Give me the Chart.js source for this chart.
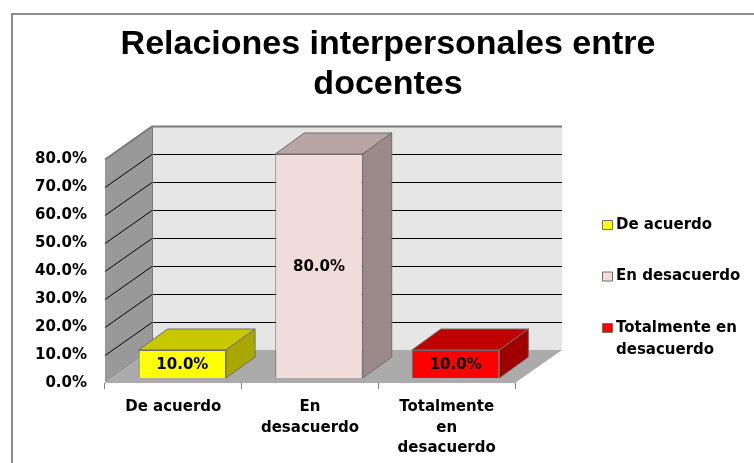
<!DOCTYPE html>
<html>
<head>
<meta charset="utf-8">
<script src="https://cdn.jsdelivr.net/npm/chart.js@4.4.0/dist/chart.umd.min.js"></script>
<style>
  html, body { margin: 0; padding: 0; background: #fff; }
  #wrap { width: 754px; height: 463px; }
</style>
</head>
<body>
<div id="wrap"><canvas id="chart" width="754" height="463"></canvas></div>
<script>
// data
const categories = ["De acuerdo", "En desacuerdo", "Totalmente en desacuerdo"];
const axisLabels = [["De acuerdo"], ["En", "desacuerdo"], ["Totalmente", "en", "desacuerdo"]];
const percentages = [10.0, 80.0, 10.0];
const yTicks = [0, 10, 20, 30, 40, 50, 60, 70, 80];

// colours of each bar: front, top and side faces
const frontColors = ["#FFFF00", "#F2DCDB", "#FF0000"];
const topColors = ["#C8C800", "#B8A5A4", "#C00000"];
const sideColors = ["#A8A800", "#9A8A89", "#A00000"];

// 3d look (pixels)
const WALL = { dx: 47, dy: -33 };      // front edge -> back wall
const BAR_SHIFT = { dx: 9, dy: -5 };   // front edge -> bar front face
const BAR_DEPTH = { dx: 29, dy: -21 }; // bar front face -> bar back

const labelFont = "bold 15px 'DejaVu Sans', Verdana, sans-serif";

function poly(ctx, pts, fill, stroke) {
    ctx.beginPath();
    ctx.moveTo(pts[0][0], pts[0][1]);
    for (let i = 1; i < pts.length; i++) ctx.lineTo(pts[i][0], pts[i][1]);
    ctx.closePath();
    ctx.fillStyle = fill;
    ctx.fill();
    if (stroke) {
        ctx.strokeStyle = stroke;
        ctx.lineWidth = 1;
        ctx.stroke();
    }
}

// split a legend entry into lines that fit the space on the right
function wrapText(ctx, text, maxWidth) {
    const words = text.split(" ");
    const lines = [];
    let line = "";
    words.forEach(w => {
        const test = line ? line + " " + w : w;
        if (line && ctx.measureText(test).width > maxWidth) {
            lines.push(line);
            line = w;
        } else {
            line = test;
        }
    });
    lines.push(line);
    return lines;
}

const threeD = {
    id: "threeD",
    beforeDraw(chart) {
        const ctx = chart.ctx;
        ctx.save();
        ctx.strokeStyle = "#8c8c8c";
        ctx.lineWidth = 2;
        ctx.beginPath();
        ctx.moveTo(12, chart.height);
        ctx.lineTo(12, 14);
        ctx.lineTo(chart.width, 14);
        ctx.stroke();
        ctx.restore();
    },
    beforeDatasetsDraw(chart) {
        const { ctx, chartArea: a, scales: { y } } = chart;
        const L = a.left, R = a.right;
        const B = y.getPixelForValue(0), T = y.getPixelForValue(y.max);
        const dx = WALL.dx, dy = WALL.dy;

        ctx.save();
        // back wall, left wall, floor
        ctx.fillStyle = "#E6E6E6";
        ctx.fillRect(L + dx, T + dy, R - L, B - T);
        poly(ctx, [[L, B], [L, T], [L + dx, T + dy], [L + dx, B + dy]], "#999999");
        poly(ctx, [[L, B], [R, B], [R + dx, B + dy], [L + dx, B + dy]], "#ABABAB");

        // gridlines along the left wall and back wall
        yTicks.forEach(v => {
            if (v === 0) return;
            const py = Math.round(y.getPixelForValue(v)) + 0.5;
            ctx.strokeStyle = v === y.max ? "#7a7a7a" : "#000";
            ctx.lineWidth = v === y.max ? 2 : 1;
            ctx.beginPath();
            ctx.moveTo(L, py);
            ctx.lineTo(L + dx, py + dy);
            ctx.lineTo(R + dx, py + dy);
            ctx.stroke();
        });
        // corner edge between the walls
        ctx.strokeStyle = "#7a7a7a";
        ctx.lineWidth = 1;
        ctx.beginPath();
        ctx.moveTo(L + dx + 0.5, T + dy);
        ctx.lineTo(L + dx + 0.5, B + dy);
        ctx.stroke();
        ctx.restore();

        // bars sit a little behind the front edge
        ctx.save();
        ctx.translate(BAR_SHIFT.dx, BAR_SHIFT.dy);
    },
    afterDatasetsDraw(chart) {
        const ctx = chart.ctx;
        ctx.restore();

        const meta = chart.getDatasetMeta(0);
        meta.data.forEach((bar, i) => {
            const l = bar.x - bar.width / 2 + BAR_SHIFT.dx;
            const r = bar.x + bar.width / 2 + BAR_SHIFT.dx;
            const t = bar.y + BAR_SHIFT.dy;
            const b = bar.base + BAR_SHIFT.dy;
            const dx = BAR_DEPTH.dx, dy = BAR_DEPTH.dy;
            poly(ctx, [[l, t], [r, t], [r + dx, t + dy], [l + dx, t + dy]], topColors[i], "#6e6e6e");
            poly(ctx, [[r, t], [r, b], [r + dx, b + dy], [r + dx, t + dy]], sideColors[i], "#6e6e6e");

            ctx.fillStyle = "#000";
            ctx.font = labelFont;
            ctx.textAlign = "center";
            ctx.textBaseline = "middle";
            ctx.fillText(percentages[i].toFixed(1) + "%", (l + r) / 2, (t + b) / 2 + 1);
        });
    },
    afterDraw(chart) {
        // legend on the right
        const ctx = chart.ctx;
        ctx.save();
        ctx.font = labelFont;
        ctx.textAlign = "left";
        ctx.textBaseline = "middle";
        let yPos = 225;
        categories.forEach((name, i) => {
            poly(ctx, [[602.5, yPos - 4.5], [612.5, yPos - 4.5], [612.5, yPos + 4.5], [602.5, yPos + 4.5]],
                frontColors[i], "#6e6e6e");
            const lines = wrapText(ctx, name, 134);
            ctx.fillStyle = "#000";
            lines.forEach((ln, k) => ctx.fillText(ln, 616, yPos + k * 22));
            yPos += 51.5;
        });
        ctx.restore();
    }
};

new Chart(document.getElementById("chart"), {
    type: "bar",
    data: {
        labels: axisLabels,
        datasets: [{
            label: "Relaciones interpersonales entre docentes",
            data: percentages,
            backgroundColor: frontColors,
            borderColor: "#6e6e6e",
            borderWidth: 1,
            barPercentage: 0.64,
            categoryPercentage: 1,
            clip: false
        }]
    },
    options: {
        responsive: false,
        animation: false,
        layout: { padding: { left: 22, right: 0, top: 0, bottom: 0 } },
        plugins: {
            legend: { display: false },
            tooltip: { enabled: false },
            title: {
                display: true,
                text: ["Relaciones interpersonales entre", "docentes"],
                color: "#000",
                font: { family: "'Liberation Sans', Arial, sans-serif", size: 34, weight: "bold", lineHeight: 1.176 },
                padding: { top: 25, bottom: 54 }
            }
        },
        scales: {
            x: {
                offset: true,
                grid: { offset: true, drawOnChartArea: false, drawTicks: true, tickLength: 6, color: "#808080" },
                border: { display: false },
                ticks: {
                    color: "#000",
                    font: { family: "'DejaVu Sans', Verdana, sans-serif", size: 15, weight: "bold", lineHeight: 1.37 },
                    padding: 8,
                    maxRotation: 0,
                    autoSkip: false
                },
                afterFit(scale) { scale.height = 80; }
            },
            y: {
                min: 0,
                max: 80,
                ticks: {
                    stepSize: 10,
                    color: "#000",
                    font: { family: "'DejaVu Sans', Verdana, sans-serif", size: 15, weight: "bold" },
                    padding: 10,
                    callback: v => v.toFixed(1) + "%"
                },
                grid: { display: false },
                border: { display: false },
                afterFit(scale) { scale.width = 83; }
            },
            // empty axis on the right keeps room for the legend
            legendSpace: {
                type: "linear",
                position: "right",
                ticks: { display: false },
                grid: { display: false },
                border: { display: false },
                afterFit(scale) { scale.width = 239; }
            }
        }
    },
    plugins: [threeD]
});
</script>
</body>
</html>
